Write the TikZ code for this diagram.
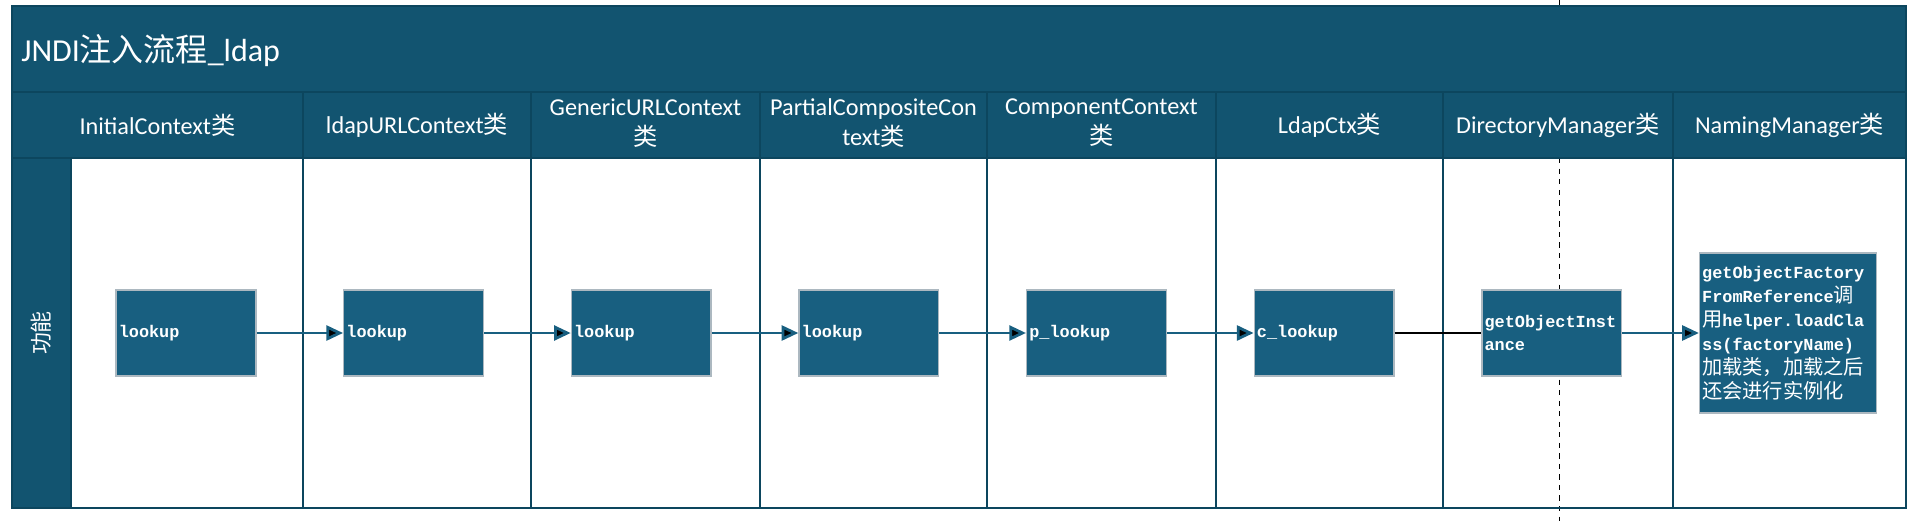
\documentclass[tikz,border=0pt]{standalone}
\usepackage{fontspec}
\setmainfont{Carlito}
\newfontfamily\cjk{Noto Sans CJK SC}
\newfontfamily\codefont{Liberation Mono}
\newfontfamily\codecjk[Scale=1.2]{Noto Sans CJK SC}
\usetikzlibrary{arrows.meta,positioning}

\definecolor{lane}{RGB}{18,84,112}
\definecolor{laneline}{RGB}{12,70,94}
\definecolor{boxfill}{RGB}{24,95,128}
\definecolor{boxline}{RGB}{172,184,192}

\newcommand{\zh}[1]{{\cjk #1}}
\newcommand{\zc}[1]{{\codecjk\mdseries #1}}

\begin{document}
\begin{tikzpicture}[x=0.02cm,y=-0.02cm,node distance=1.73cm,
    laneband/.style={fill=lane,draw=laneline,line width=0.8pt},
    sep/.style={draw=laneline,line width=0.8pt},
    head/.style={text=white,align=center,font=\fontsize{13.8}{17}\selectfont},
    func/.style={fill=boxfill,draw=boxline,line width=0.8pt,text=white,
        inner xsep=1.5pt,text width=2.69cm,minimum height=1.72cm,align=left,
        font=\codefont\bfseries\fontsize{9.6}{13.6}\selectfont},
    flow/.style={draw=boxfill,line width=1.6pt,-{Triangle[length=9.5pt,width=8.5pt]}}]
    \useasboundingbox (0,0) rectangle (1918,521);

    % guide line
    \draw[dashed] (1559,0) -- (1559,521);

    % swimlane
    \path[laneband] (12,6) rectangle (1906,92);
    \path[laneband] (12,92) rectangle (1906,158);
    \path[laneband] (12,158) rectangle (71,508);
    \foreach \x in {303,531,760,987,1216,1443,1673}
        \draw[sep] (\x,92) -- (\x,508);
    \draw[draw=laneline,line width=1.2pt] (12,6) rectangle (1906,508);

    \node[text=white,anchor=base west,inner sep=0pt,font=\fontsize{18.2}{22}\selectfont]
        (title) at (21,61) {JNDI\zh{注入流程}\_ldap};
    \node[head] (h1) at (157.5,125) {InitialContext\zh{类}};
    \node[head] (h2) at (417,125) {ldapURLContext\zh{类}};
    \node[head] (h3) at (645.5,123) {GenericURLContext\\\zh{类}};
    \node[head] (h4) at (873.5,123) {PartialCompositeCon\\text\zh{类}};
    \node[head] (h5) at (1101.5,123) {ComponentContext\\\zh{类}};
    \node[head] (h6) at (1329.5,125) {LdapCtx\zh{类}};
    \node[head] (h7) at (1558,125) {DirectoryManager\zh{类}};
    \node[head] (h8) at (1789.5,125) {NamingManager\zh{类}};
    \node[text=white,rotate=90,font=\cjk\fontsize{12.5}{15}\selectfont] (gn) at (41,333) {功能};

    % call chain
    \node[func] (ictx) at (186,333) {lookup};
    \node[func] (ldapurl) [right=of ictx] {lookup};
    \node[func] (genurl) [right=of ldapurl] {lookup};
    \node[func] (pcomp) [right=of genurl] {lookup};
    \node[func] (comp) [right=of pcomp] {p\_lookup};
    \node[func] (ldapctx) [right=of comp] {c\_lookup};
    \node[func] (dirmgr) [right=of ldapctx] {getObjectInst\\ance};
    \node[func,text width=3.43cm,minimum height=3.2cm] (namingmgr) [right=1.53cm of dirmgr]
        {getObjectFactory\\FromReference\zc{调}\\\zc{用}helper.loadCla\\ss(factoryName)\\\zc{加载类，加载之后}\\\zc{还会进行实例化}};

    \path[flow]
    (ictx) edge (ldapurl)
    (ldapurl) edge (genurl)
    (genurl) edge (pcomp)
    (pcomp) edge (comp)
    (comp) edge (ldapctx)
    (ldapctx) edge [-,draw=black,line width=0.6pt] (dirmgr)
    (dirmgr) edge (namingmgr)
    ;
\end{tikzpicture}
\end{document}
